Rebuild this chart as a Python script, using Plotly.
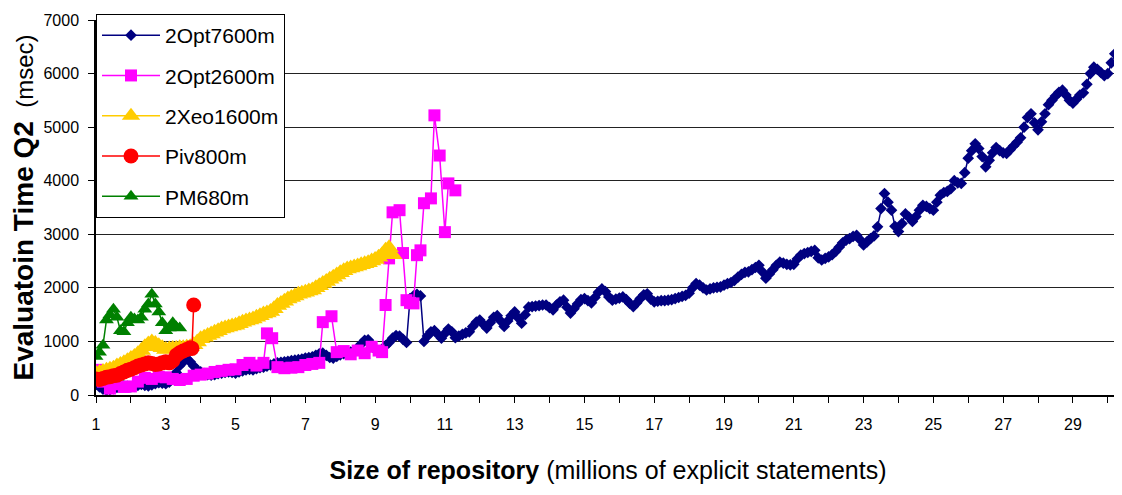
import plotly.graph_objects as go

# ---------------- data ----------------
series_names = ["2Opt7600m", "2Opt2600m", "2Xeo1600m", "Piv800m", "PM680m"]

# 2Opt7600m (read every 0.1 million statements, 1.0 .. 30.2)
blue_y = [200, 150, 110, 90, 100, 120, 140, 160, 170, 160,
          150, 160, 180, 200, 180, 170, 190, 210, 230, 220,
          210, 240, 300, 420, 550, 620, 680, 620, 540, 470,
          430, 400, 380, 370, 380, 400, 410, 420, 430, 420,
          410, 430, 450, 470, 480, 470, 490, 510, 520, 540,
          560, 580, 600, 610, 620, 630, 640, 650, 660, 670,
          690, 700, 710, 740, 770, 780, 740, 700, 690, 720,
          750, 770, 780, 800, 830, 880, 950, 1020, 1030, 950,
          850, 800, 850, 920, 980, 1060, 1110, 1100, 1040, 980,
          1800, 1850, 1880, 1850, 1000, 1100, 1180, 1200, 1130, 1060,
          1150, 1230, 1180, 1070, 1100, 1130, 1160, 1180, 1280, 1360,
          1400, 1320, 1250, 1350, 1450, 1480, 1380, 1280, 1380, 1480,
          1550, 1440, 1340, 1500, 1640, 1650, 1660, 1670, 1680, 1680,
          1630, 1590, 1680, 1740, 1770, 1640, 1530, 1610, 1700, 1780,
          1800, 1760, 1720, 1820, 1920, 1980, 1930, 1830, 1770, 1790,
          1810, 1830, 1780, 1710, 1650, 1720, 1800, 1870, 1890, 1790,
          1740, 1750, 1760, 1760, 1770, 1780, 1800, 1820, 1840, 1860,
          1900, 2000, 2080, 2050, 2000, 1960, 1980, 2000, 2010, 2020,
          2050, 2080, 2100, 2140, 2200, 2250, 2290, 2300, 2340, 2380,
          2420, 2300, 2180, 2260, 2340, 2420, 2480, 2460, 2440, 2430,
          2440, 2540, 2610, 2640, 2660, 2680, 2700, 2560, 2520, 2550,
          2580, 2620, 2680, 2760, 2840, 2890, 2920, 2960, 2980, 2900,
          2800, 2860, 2920, 2970, 3140, 3480, 3760, 3600, 3450, 3150,
          3050, 3200, 3380, 3320, 3240, 3330, 3450, 3540, 3520, 3480,
          3450, 3600, 3730, 3780, 3800, 3850, 4000, 3960, 3950, 4150,
          4420, 4560, 4690, 4600, 4450, 4260, 4380, 4520, 4620, 4560,
          4520, 4510, 4580, 4650, 4720, 4800, 5000, 5180, 5250, 5080,
          4950, 5100, 5250, 5420, 5500, 5580, 5650, 5690, 5600, 5500,
          5450, 5520, 5600, 5640, 5800, 6000, 6120, 6080, 6020, 5960,
          6000, 6200, 6370]
blue_x = [round(1.0 + 0.1 * i, 1) for i in range(len(blue_y))]

# 2Opt2600m
pink_x = [1.0, 1.2, 1.4, 1.6, 1.8, 2.0, 2.2, 2.4, 2.6, 2.8, 3.0, 3.2, 3.4, 3.6,
          3.8, 4.0, 4.2, 4.4, 4.6, 4.8, 5.0, 5.2, 5.4, 5.6, 5.8, 5.9, 6.05, 6.2,
          6.4, 6.6, 6.8, 7.0, 7.2, 7.4, 7.5, 7.75, 7.9, 8.1, 8.3, 8.5, 8.7, 8.9,
          9.1, 9.2, 9.3, 9.4, 9.5, 9.7, 9.8, 9.9, 10.0, 10.1, 10.2, 10.3, 10.4,
          10.6, 10.7, 10.85, 11.0, 11.1, 11.3]
pink_y = [470, 250, 120, 200, 150, 160, 250, 320, 300, 340, 330, 300, 280, 300,
          360, 380, 400, 430, 450, 470, 480, 560, 600, 550, 600, 1150, 1060, 520,
          500, 510, 520, 560, 580, 600, 1360, 1470, 800, 820, 760, 830, 780, 900,
          830, 800, 1680, 2550, 3410, 3450, 2650, 1770, 1720, 1710, 2610, 2700, 3580,
          3670, 5220, 4470, 3040, 3950, 3820]

# 2Xeo1600m (read every 0.1 million statements, 1.0 .. 9.5)
yellow_y = [400, 420, 440, 460, 480, 500, 540, 570, 600, 640,
            680, 720, 770, 830, 900, 950, 990, 960, 920, 880,
            850, 860, 870, 870, 880, 880, 890, 900, 940, 990,
            1050, 1080, 1110, 1140, 1170, 1200, 1230, 1250, 1270, 1290,
            1300, 1330, 1360, 1380, 1400, 1420, 1450, 1480, 1510, 1530,
            1560, 1610, 1670, 1710, 1750, 1790, 1820, 1850, 1880, 1900,
            1920, 1940, 1960, 2000, 2040, 2080, 2120, 2160, 2200, 2240,
            2280, 2320, 2350, 2370, 2390, 2410, 2430, 2450, 2470, 2500,
            2530, 2570, 2620, 2700, 2750, 2620]
yellow_x = [round(1.0 + 0.1 * i, 1) for i in range(len(yellow_y))]

# Piv800m
red_x = [1.0, 1.1, 1.2, 1.3, 1.4, 1.5, 1.6, 1.7, 1.8, 1.9, 2.0, 2.1, 2.2, 2.3,
         2.4, 2.5, 2.6, 2.7, 2.8, 2.9, 3.0, 3.1, 3.2, 3.3, 3.4, 3.5, 3.6, 3.7,
         3.75, 3.8]
red_y = [300, 290, 310, 330, 340, 360, 370, 400, 430, 460, 480, 510, 540, 560,
         580, 600, 590, 570, 580, 600, 620, 600, 640, 740, 790, 820, 850, 880,
         870, 1680]

# PM680m
green_x = [1.0, 1.1, 1.2, 1.3, 1.4, 1.5, 1.6, 1.7, 1.8, 1.9, 2.0, 2.1, 2.2, 2.3,
           2.4, 2.5, 2.6, 2.7, 2.8, 2.9, 3.0, 3.1, 3.2, 3.3, 3.4]
green_y = [720, 800, 930, 1400, 1500, 1600, 1450, 1200, 1180, 1350, 1450, 1420,
           1400, 1450, 1600, 1700, 1880, 1700, 1550, 1350, 1200, 1250, 1350, 1270,
           1250]

x_tick_vals = list(range(1, 31))
x_tick_text = [str(v) if v % 2 == 1 else "" for v in x_tick_vals]
y_tick_vals = [0, 1000, 2000, 3000, 4000, 5000, 6000, 7000]

# ---------------- figure ----------------
FONT = "Liberation Sans, Arial, sans-serif"

styles = [
    dict(color="#000080", symbol="diamond", size=9),
    dict(color="#FF00FF", symbol="square", size=12),
    dict(color="#FFCC00", symbol="triangle-up", size=17),
    dict(color="#FF0000", symbol="circle", size=15),
    dict(color="#008000", symbol="triangle-up", size=13),
]
data = [(blue_x, blue_y), (pink_x, pink_y), (yellow_x, yellow_y),
        (red_x, red_y), (green_x, green_y)]

fig = go.Figure()
for name, (xs, ys), st in zip(series_names, data, styles):
    fig.add_trace(go.Scatter(
        x=xs, y=ys, name=name, mode="lines+markers",
        legendgroup=name,
        line=dict(color=st["color"], width=1.5),
        marker=dict(color=st["color"], symbol=st["symbol"], size=st["size"],
                    line=dict(width=0)),
    ))

# the page body adds an 8px offset, so the figure is 8px smaller each way
fig.update_layout(
    width=1114, height=487,
    margin=dict(l=88, r=2, t=12, b=100),
    paper_bgcolor="white", plot_bgcolor="white",
    font=dict(family=FONT, color="black"),
    showlegend=True,
    legend=dict(
        x=0, y=1.016, xanchor="left", yanchor="top",
        bgcolor="white", bordercolor="black", borderwidth=1,
        font=dict(size=21, family=FONT), tracegroupgap=10,
        itemwidth=58,
    ),
    xaxis=dict(
        range=[1, 30.35], tickmode="array", tickvals=x_tick_vals, ticktext=x_tick_text,
        ticks="outside", ticklen=6, tickcolor="black", tickwidth=1,
        showline=True, linecolor="black", linewidth=1.5,
        showgrid=False, zeroline=False, automargin=False,
        tickfont=dict(size=16, family=FONT), ticklabelstandoff=8,
        title=dict(
            text="<b>Size of repository</b> (millions of explicit statements)",
            font=dict(size=25, family=FONT), standoff=30),
    ),
    yaxis=dict(
        range=[0, 7000], tickmode="array", tickvals=y_tick_vals,
        ticks="outside", ticklen=6, tickcolor="black", tickwidth=1,
        showline=True, linecolor="black", linewidth=1.5,
        showgrid=True, gridcolor="#222222", gridwidth=1, zeroline=False,
        automargin=False,
        tickfont=dict(size=16, family=FONT), ticklabelstandoff=6,
        title=dict(
            text="<b>Evaluatoin Time Q2</b><span style='font-size:24px'>  (msec)</span>",
            font=dict(size=28, family=FONT), standoff=6),
    ),
)

fig.write_html("out.html")
